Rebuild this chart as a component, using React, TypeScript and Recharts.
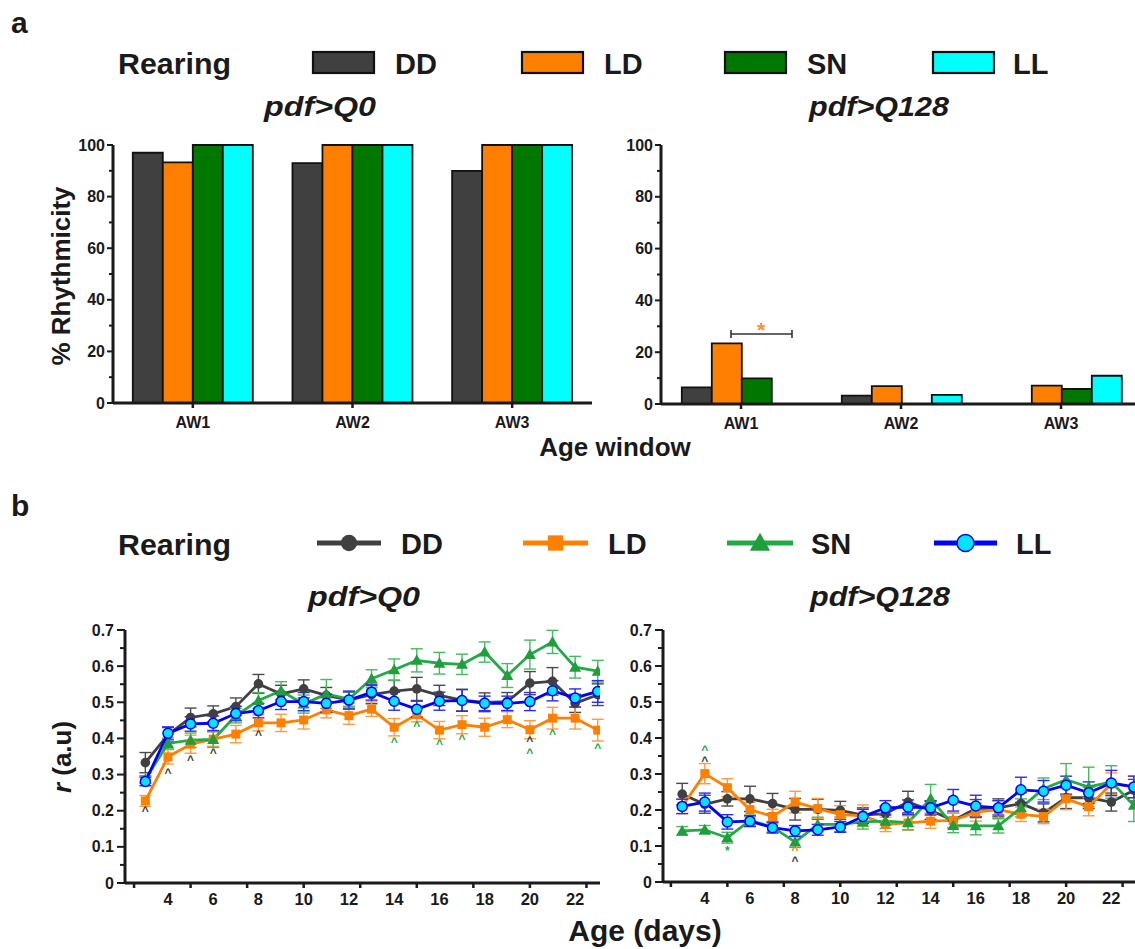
import React from 'react';
import { BarChart, Bar, XAxis, YAxis, LineChart, Line, ErrorBar, ReferenceDot } from 'recharts';

const FONT = '"Liberation Sans", Arial, Helvetica, sans-serif';
const INK = '#1a1a1a';

// ---------- panel a data ----------
const ageWindows = ['AW1', 'AW2', 'AW3'];
const q0RhythDD = [97, 93, 90];
const q0RhythLD = [93.3, 100, 100];
const q0RhythSN = [100, 100, 100];
const q0RhythLL = [100, 100, 100];
const q128RhythDD = [6.4, 3.2, 0];
const q128RhythLD = [23.4, 6.9, 7.1];
const q128RhythSN = [9.9, 0, 5.8];
const q128RhythLL = [0, 3.5, 10.9];
const pctTicks = [0, 10, 20, 30, 40, 50, 60, 70, 80, 90, 100];
const pctLabels = [0, 20, 40, 60, 80, 100];

// ---------- panel b data ----------
const days = [3, 4, 5, 6, 7, 8, 9, 10, 11, 12, 13, 14, 15, 16, 17, 18, 19, 20, 21, 22, 23];
const q0DD = [0.333, 0.41, 0.458, 0.468, 0.488, 0.551, 0.523, 0.537, 0.519, 0.506, 0.521, 0.531, 0.537, 0.519, 0.506, 0.5, 0.502, 0.553, 0.558, 0.497, 0.521];
const q0DDerr = [0.028, 0.02, 0.026, 0.022, 0.024, 0.026, 0.024, 0.025, 0.022, 0.022, 0.025, 0.03, 0.032, 0.028, 0.03, 0.026, 0.025, 0.032, 0.038, 0.025, 0.03];
const q0LD = [0.227, 0.349, 0.384, 0.398, 0.412, 0.443, 0.443, 0.451, 0.479, 0.463, 0.481, 0.431, 0.466, 0.423, 0.438, 0.431, 0.452, 0.424, 0.456, 0.456, 0.423];
const q0LDerr = [0.015, 0.02, 0.025, 0.02, 0.024, 0.022, 0.024, 0.025, 0.022, 0.024, 0.02, 0.024, 0.02, 0.024, 0.025, 0.025, 0.022, 0.025, 0.03, 0.03, 0.03];
const q0SN = [0.287, 0.386, 0.395, 0.397, 0.463, 0.505, 0.532, 0.495, 0.523, 0.509, 0.565, 0.59, 0.616, 0.608, 0.605, 0.639, 0.574, 0.632, 0.667, 0.597, 0.586];
const q0SNerr = [0.01, 0.015, 0.02, 0.022, 0.02, 0.022, 0.025, 0.025, 0.04, 0.02, 0.025, 0.03, 0.032, 0.03, 0.028, 0.028, 0.033, 0.04, 0.032, 0.03, 0.03];
const q0LL = [0.281, 0.414, 0.44, 0.442, 0.469, 0.477, 0.502, 0.502, 0.497, 0.506, 0.528, 0.503, 0.481, 0.503, 0.505, 0.497, 0.497, 0.502, 0.532, 0.512, 0.53];
const q0LLerr = [0.012, 0.018, 0.02, 0.02, 0.02, 0.02, 0.022, 0.025, 0.025, 0.025, 0.022, 0.025, 0.022, 0.025, 0.03, 0.02, 0.02, 0.025, 0.028, 0.025, 0.03];

const q128DD = [0.244, 0.216, 0.231, 0.231, 0.218, 0.202, 0.202, 0.199, 0.186, 0.19, 0.222, 0.199, 0.171, 0.204, 0.206, 0.218, 0.192, 0.234, 0.234, 0.222, 0.255];
const q128DDerr = [0.03, 0.025, 0.02, 0.035, 0.028, 0.03, 0.028, 0.025, 0.02, 0.02, 0.03, 0.025, 0.02, 0.025, 0.025, 0.03, 0.025, 0.03, 0.03, 0.025, 0.03];
const q128LD = [0.21, 0.301, 0.262, 0.201, 0.182, 0.222, 0.204, 0.187, 0.184, 0.16, 0.164, 0.169, 0.171, 0.194, 0.201, 0.188, 0.182, 0.231, 0.209, 0.273, 0.264];
const q128LDerr = [0.02, 0.028, 0.025, 0.02, 0.02, 0.03, 0.028, 0.025, 0.03, 0.02, 0.02, 0.02, 0.02, 0.025, 0.025, 0.02, 0.02, 0.03, 0.025, 0.03, 0.03];
const q128SN = [0.142, 0.145, 0.123, 0.171, 0.153, 0.111, 0.16, 0.16, 0.167, 0.169, 0.165, 0.231, 0.157, 0.156, 0.156, 0.206, 0.259, 0.284, 0.264, 0.278, 0.213];
const q128SNerr = [0.012, 0.012, 0.015, 0.015, 0.015, 0.015, 0.02, 0.02, 0.02, 0.02, 0.02, 0.04, 0.02, 0.025, 0.02, 0.025, 0.03, 0.045, 0.055, 0.045, 0.045];
const q128LL = [0.21, 0.222, 0.167, 0.169, 0.151, 0.142, 0.145, 0.153, 0.182, 0.206, 0.208, 0.206, 0.227, 0.211, 0.206, 0.256, 0.252, 0.269, 0.248, 0.275, 0.264];
const q128LLerr = [0.02, 0.025, 0.02, 0.015, 0.015, 0.015, 0.015, 0.015, 0.02, 0.02, 0.02, 0.02, 0.03, 0.03, 0.02, 0.035, 0.03, 0.025, 0.03, 0.035, 0.03];

const rTicks = [0, 0.05, 0.1, 0.15, 0.2, 0.25, 0.3, 0.35, 0.4, 0.45, 0.5, 0.55, 0.6, 0.65, 0.7];
const rLabels = [0, 0.1, 0.2, 0.3, 0.4, 0.5, 0.6, 0.7];
const dayMarks = [2.5, 5, 7.5, 10, 12.5, 15, 17.5, 20, 22.5];
const dayLabels = [4, 6, 8, 10, 12, 14, 16, 18, 20, 22];
const dayTicks = Array.from(new Set([...dayMarks, ...dayLabels])).sort((a, b) => a - b);

// significance marks (day, position in r units, glyph, colour)
const q0Marks = [
  { day: 3, y: 0.204, m: '^', c: '#404040' },
  { day: 4, y: 0.31, m: '^', c: '#404040' },
  { day: 5, y: 0.346, m: '^', c: '#404040' },
  { day: 6, y: 0.365, m: '^', c: '#404040' },
  { day: 8, y: 0.415, m: '^', c: '#404040' },
  { day: 14, y: 0.396, m: '^', c: '#22aa44' },
  { day: 15, y: 0.44, m: '^', c: '#22aa44' },
  { day: 16, y: 0.391, m: '^', c: '#22aa44' },
  { day: 17, y: 0.405, m: '^', c: '#22aa44' },
  { day: 20, y: 0.398, m: '^', c: '#404040' },
  { day: 20, y: 0.366, m: '^', c: '#22aa44' },
  { day: 21, y: 0.419, m: '^', c: '#22aa44' },
  { day: 23, y: 0.379, m: '^', c: '#22aa44' },
];
const q128Marks = [
  { day: 4, y: 0.372, m: '^', c: '#22aa44' },
  { day: 4, y: 0.341, m: '^', c: '#404040' },
  { day: 5, y: 0.095, m: '*', c: '#22aa44' },
  { day: 8, y: 0.095, m: '^', c: '#ff8000' },
  { day: 8, y: 0.064, m: '^', c: '#404040' },
];

const series = [
  { key: 'DD', line: '#404040', err: '#4a4a4a' },
  { key: 'LD', line: '#ff8000', err: '#ff9a40' },
  { key: 'SN', line: '#22aa44', err: '#44bb5e' },
  { key: 'LL', line: '#0000ff', err: '#2a2aff' },
];
const barFill: Record<string, string> = { DD: '#404040', LD: '#ff8000', SN: '#007800', LL: '#00ffff' };

const makeBars = (dd: number[], ld: number[], sn: number[], ll: number[]) =>
  ageWindows.map((aw, i) => ({ aw, DD: dd[i], LD: ld[i], SN: sn[i], LL: ll[i] }));

const makeLines = (dd: number[], dde: number[], ld: number[], lde: number[], sn: number[], sne: number[], ll: number[], lle: number[]) =>
  days.map((day, i) => ({ day, DD: dd[i], DDe: dde[i], LD: ld[i], LDe: lde[i], SN: sn[i], SNe: sne[i], LL: ll[i], LLe: lle[i] }));

const q0Bars = makeBars(q0RhythDD, q0RhythLD, q0RhythSN, q0RhythLL);
const q128Bars = makeBars(q128RhythDD, q128RhythLD, q128RhythSN, q128RhythLL);
const q0Lines = makeLines(q0DD, q0DDerr, q0LD, q0LDerr, q0SN, q0SNerr, q0LL, q0LLerr);
const q128Lines = makeLines(q128DD, q128DDerr, q128LD, q128LDerr, q128SN, q128SNerr, q128LL, q128LLerr);

// ---------- ticks ----------
const PctTick = (p: any) => {
  const v = p.payload.value;
  const major = pctLabels.includes(v);
  return (
    <g>
      <line x1={p.x - (major ? 6 : 4)} x2={p.x} y1={p.y} y2={p.y} stroke={INK} strokeWidth={2} />
      {major && (
        <text x={p.x - 8} y={p.y + 5.5} textAnchor="end" fontFamily={FONT} fontWeight="bold" fontSize={16} fill={INK}>
          {v}
        </text>
      )}
    </g>
  );
};
const RTick = (p: any) => {
  const v = p.payload.value;
  const major = rLabels.some((l) => Math.abs(l - v) < 1e-6);
  return (
    <g>
      <line x1={p.x - (major ? 8 : 5)} x2={p.x} y1={p.y} y2={p.y} stroke={INK} strokeWidth={2} />
      {major && (
        <text x={p.x - 11} y={p.y + 5.5} textAnchor="end" fontFamily={FONT} fontWeight="bold" fontSize={16} fill={INK}>
          {v === 0 ? '0' : v.toFixed(1)}
        </text>
      )}
    </g>
  );
};
const CatTick = (p: any) => (
  <g>
    <line x1={p.x} x2={p.x} y1={p.y} y2={p.y + 5} stroke={INK} strokeWidth={2.5} />
    <text x={p.x} y={p.y + 25} textAnchor="middle" fontFamily={FONT} fontWeight="bold" fontSize={16} fill={INK}>
      {p.payload.value}
    </text>
  </g>
);
const DayTick = (p: any) => {
  const v = p.payload.value;
  return (
    <g>
      {dayMarks.includes(v) && <line x1={p.x} x2={p.x} y1={p.y} y2={p.y + 5} stroke={INK} strokeWidth={2.5} />}
      {dayLabels.includes(v) && (
        <text x={p.x} y={p.y + 22} textAnchor="middle" fontFamily={FONT} fontWeight="bold" fontSize={16.5} fill={INK}>
          {v}
        </text>
      )}
    </g>
  );
};

// ---------- markers ----------
const marker = (key: string, cx: number, cy: number, s = 1) => {
  if (key === 'DD') return <circle cx={cx} cy={cy} r={4.8 * s} fill="#404040" />;
  if (key === 'LD') return <rect x={cx - 4.5 * s} y={cy - 4.5 * s} width={9 * s} height={9 * s} fill="#ff8000" />;
  if (key === 'SN')
    return (
      <polygon
        points={`${cx},${cy - 6 * s} ${cx - 6 * s},${cy + 4.5 * s} ${cx + 6 * s},${cy + 4.5 * s}`}
        fill="#1f9e3c"
      />
    );
  return <circle cx={cx} cy={cy} r={5 * s} fill="#00e5ff" stroke="#0000ff" strokeWidth={1.5} />;
};

const axisLineStyle = { stroke: INK, strokeWidth: 3 };

const BarPanel = ({ data, bracket }: { data: any[]; bracket?: boolean }) => (
  <BarChart
    width={bracket ? 555 : 560}
    height={300}
    data={data}
    margin={{ top: 10, right: bracket ? 4 : 8, bottom: 0, left: 0 }}
    barCategoryGap={bracket ? '13%' : '12.4%'}
    barGap={0}
  >
    <XAxis dataKey="aw" height={bracket ? 31 : 32} axisLine={axisLineStyle} tickLine={false} tickSize={0} tickMargin={0} tick={CatTick} interval={0} />
    <YAxis type="number" domain={[0, 100]} ticks={pctTicks} interval={0} width={bracket ? 71 : 73} axisLine={axisLineStyle} tickLine={false} tickSize={0} tickMargin={0} tick={PctTick} />
    {series.map((s) => (
      <Bar key={s.key} dataKey={s.key} fill={barFill[s.key]} stroke="#111" strokeWidth={1.8} isAnimationActive={false} />
    ))}
    {bracket && (
      <ReferenceDot
        x="AW1"
        y={27}
        r={0}
        ifOverflow="visible"
        shape={(p: any) => (
          <g>
            <path
              d={`M${p.cx - 10},${p.cy} H${p.cx + 51} M${p.cx - 10},${p.cy - 4} V${p.cy + 4} M${p.cx + 51},${p.cy - 4} V${p.cy + 4}`}
              stroke="#333"
              strokeWidth={1.6}
              fill="none"
            />
            <text x={p.cx + 20} y={p.cy + 3} textAnchor="middle" fontFamily={FONT} fontWeight="bold" fontSize={21} fill="#ff8c33">
              *
            </text>
          </g>
        )}
      />
    )}
  </BarChart>
);

const LinePanel = ({ data, marks, right }: { data: any[]; marks: any[]; right?: boolean }) => (
  <LineChart width={right ? 545 : 570} height={300} data={data} margin={{ top: 10, right: right ? 0 : 10, bottom: 0, left: 0 }}>
    <XAxis
      dataKey="day"
      type="number"
      domain={right ? [2.15, 23.05] : [2.1, 23.1]}
      allowDataOverflow
      ticks={dayTicks}
      interval={0}
      height={right ? 38 : 37}
      axisLine={axisLineStyle}
      tickLine={false}
      tickSize={0}
      tickMargin={0}
      tick={DayTick}
    />
    <YAxis type="number" domain={[0, 0.7]} ticks={rTicks} interval={0} width={right ? 73 : 85} axisLine={axisLineStyle} tickLine={false} tickSize={0} tickMargin={0} tick={RTick} />
    {series.map((s) => (
      <Line
        key={s.key}
        dataKey={s.key}
        stroke={s.line}
        strokeWidth={2.8}
        isAnimationActive={false}
        activeDot={false}
        dot={(p: any) => <g key={`${s.key}-${p.index}`}>{marker(s.key, p.cx, p.cy)}</g>}
      >
        <ErrorBar dataKey={`${s.key}e`} width={6} strokeWidth={1.4} stroke={s.err} direction="y" />
      </Line>
    ))}
    {marks.map((m, i) => (
      <ReferenceDot
        key={i}
        x={m.day}
        y={m.y}
        r={0}
        ifOverflow="visible"
        shape={(p: any) => (
          <text x={p.cx} y={p.cy + (m.m === '*' ? 7 : 6)} textAnchor="middle" fontFamily={FONT} fontWeight="bold" fontSize={12} fill={m.c}>
            {m.m}
          </text>
        )}
      />
    ))}
  </LineChart>
);

const txt = { fontFamily: FONT, fontWeight: 'bold' as const, fill: INK };

const Overlay = () => (
  <svg width={1135} height={949} style={{ position: 'absolute', left: 0, top: 0, pointerEvents: 'none' }}>
    {/* panel letters */}
    <text x={11} y={33} fontSize={30} {...txt}>a</text>
    <text x={11} y={516} fontSize={30} {...txt}>b</text>

    {/* legend a */}
    <text x={118} y={74} fontSize={29} {...txt} textLength={113} lengthAdjust="spacingAndGlyphs">Rearing</text>
    {[
      { k: 'DD', sx: 313, tx: 395 },
      { k: 'LD', sx: 522, tx: 604 },
      { k: 'SN', sx: 725, tx: 807 },
      { k: 'LL', sx: 933, tx: 1013 },
    ].map((l) => (
      <g key={l.k}>
        <rect x={l.sx} y={52} width={61} height={21} fill={barFill[l.k]} stroke="#111" strokeWidth={2.2} />
        <text x={l.tx} y={74} fontSize={29} {...txt}>{l.k}</text>
      </g>
    ))}
    <text x={320} y={116} fontSize={27} fontStyle="italic" textAnchor="middle" {...txt} textLength={112} lengthAdjust="spacingAndGlyphs">pdf&gt;Q0</text>
    <text x={879} y={116} fontSize={27} fontStyle="italic" textAnchor="middle" {...txt} textLength={140} lengthAdjust="spacingAndGlyphs">pdf&gt;Q128</text>

    {/* axis titles a */}
    <text transform="translate(70,276) rotate(-90)" fontSize={26} textAnchor="middle" {...txt}>% Rhythmicity</text>
    <text x={615} y={456} fontSize={26} textAnchor="middle" {...txt}>Age window</text>

    {/* legend b */}
    <text x={118} y={555} fontSize={29} {...txt} textLength={113} lengthAdjust="spacingAndGlyphs">Rearing</text>
    {[
      { k: 'DD', x1: 317, x2: 381, tx: 401, c: '#404040' },
      { k: 'LD', x1: 523, x2: 588, tx: 608, c: '#ff8000' },
      { k: 'SN', x1: 727, x2: 793, tx: 811, c: '#22aa44' },
      { k: 'LL', x1: 934, x2: 997, tx: 1016, c: '#0000ff' },
    ].map((l) => (
      <g key={l.k}>
        <line x1={l.x1} x2={l.x2} y1={543} y2={543} stroke={l.c} strokeWidth={5} />
        {marker(l.k, (l.x1 + l.x2) / 2, 543, 1.7)}
        <text x={l.tx} y={554} fontSize={29} {...txt}>{l.k}</text>
      </g>
    ))}
    <text x={364} y={606} fontSize={27} fontStyle="italic" textAnchor="middle" {...txt} textLength={112} lengthAdjust="spacingAndGlyphs">pdf&gt;Q0</text>
    <text x={880} y={606} fontSize={27} fontStyle="italic" textAnchor="middle" {...txt} textLength={140} lengthAdjust="spacingAndGlyphs">pdf&gt;Q128</text>

    {/* axis titles b */}
    <text transform="translate(71,757) rotate(-90)" fontSize={26} textAnchor="middle" {...txt}>
      <tspan fontStyle="italic">r</tspan> (a.u)
    </text>
    <text x={645} y={941} fontSize={30} textAnchor="middle" {...txt}>Age (days)</text>
  </svg>
);

export default function App() {
  return (
    <div style={{ position: 'absolute', left: 0, top: 0, width: 1135, height: 949, background: '#fff', overflow: 'hidden' }}>
      <div style={{ position: 'absolute', left: 40, top: 135 }}>
        <BarPanel data={q0Bars} />
      </div>
      <div style={{ position: 'absolute', left: 590, top: 135 }}>
        <BarPanel data={q128Bars} bracket />
      </div>
      <div style={{ position: 'absolute', left: 40, top: 620 }}>
        <LinePanel data={q0Lines} marks={q0Marks} />
      </div>
      <div style={{ position: 'absolute', left: 590, top: 620 }}>
        <LinePanel data={q128Lines} marks={q128Marks} right />
      </div>
      <Overlay />
    </div>
  );
}
